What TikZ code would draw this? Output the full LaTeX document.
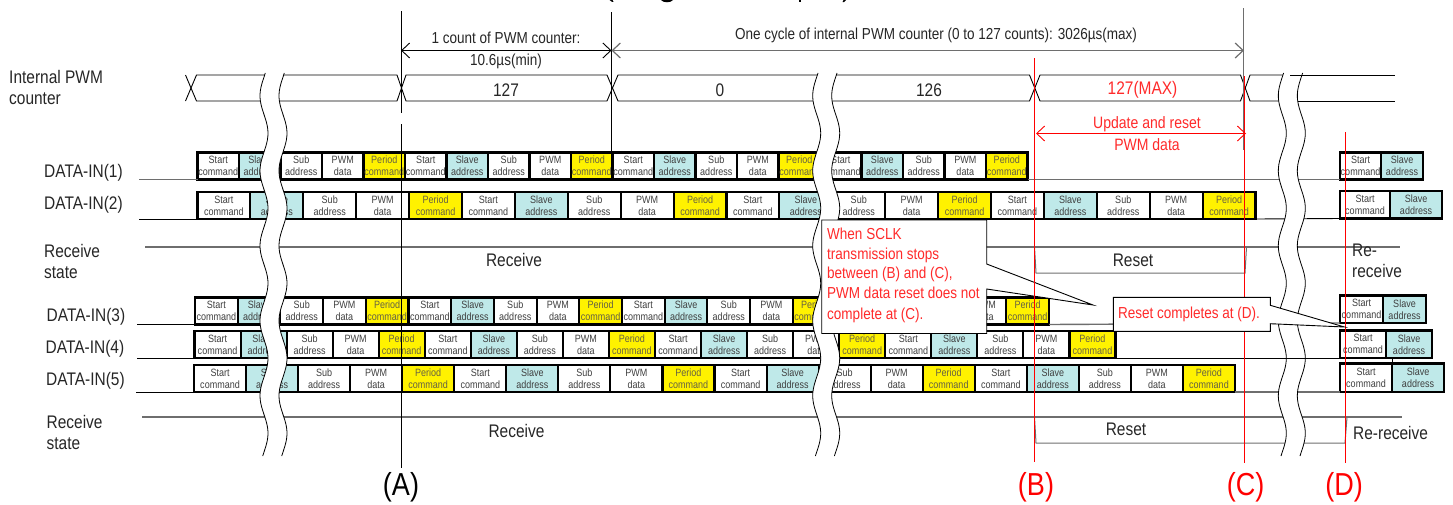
\documentclass[tikz,border=0pt]{standalone}
\usepackage{fontspec}
\setmainfont{Liberation Sans}[FakeStretch=0.85]
\usetikzlibrary{arrows.meta}
\definecolor{ink}{HTML}{262626}
\definecolor{celltxt}{HTML}{404040}
\definecolor{slavefill}{HTML}{BFE9E9}
\definecolor{redtxt}{HTML}{FF2A2A}
\definecolor{grayline}{HTML}{6E6E6E}
\newcommand\fsz[2]{\fontsize{#1}{#2}\selectfont}
\newcommand\ctzero{Start\\command}
\newcommand\ctone{Slave\\address}
\newcommand\cttwo{Sub\\address}
\newcommand\ctthree{PWM\\data}
\newcommand\ctfour{Period\\command}
\tikzset{
  cellbox/.style={draw=black,line width=2.1pt,anchor=north west,inner sep=0pt,outer sep=0pt,
    align=center,text=celltxt,font=\fsz{10.6}{12}},
  ctype0/.style={fill=white},
  ctype1/.style={fill=slavefill},
  ctype2/.style={fill=white},
  ctype3/.style={fill=white},
  ctype4/.style={fill=yellow,text=black!70!yellow},
  lbl/.style={anchor=west,inner sep=0pt,align=left,text=ink,font=\fsz{18.2}{21}},
  ctr/.style={inner sep=0pt,align=center,text=ink,font=\fsz{18.2}{21}},
  dim/.style={inner sep=0pt,align=center,text=ink,font=\fsz{15.9}{18}},
  reddim/.style={inner sep=0pt,align=center,text=redtxt,font=\fsz{16.5}{22}},
  bigmark/.style={inner sep=0pt,font=\fsz{31.8}{34}},
  timing/.style={draw=black,line width=0.9pt},
  thin/.style={draw=black,line width=0.9pt},
  grayl/.style={draw=grayline,line width=1.4pt},
  vline/.style={draw=black,line width=0.9pt},
  redline/.style={draw=red,line width=1.1pt},
  callout/.style={draw=black,fill=white,line width=0.9pt},
  calltext/.style={anchor=north west,inner sep=0pt,align=left,text=redtxt,font=\fsz{15.9}{19.8}},
  biarrow/.style={{Straight Barb[length=8pt,width=15pt]}-{Straight Barb[length=8pt,width=15pt]}},
}
\newcommand\cellrow[5]{%
  \pgfmathsetmacro\hh{#5-#4}%
  \foreach \k in {0,...,19}{%
    \pgfmathsetmacro\xx{#2+\k*#3}%
    \pgfmathtruncatemacro\ctp{mod(\k,5)}%
    \ifcase\ctp\def\cc{\ctzero}\or\def\cc{\ctone}\or\def\cc{\cttwo}\or\def\cc{\ctthree}\or\def\cc{\ctfour}\fi
    \node[cellbox,ctype\ctp,minimum width=#3pt,minimum height=\hh pt] (#1c\k) at (\xx,#4) {\cc};
  }%
}
\newcommand\tailgroup[6]{% id, x0, x1, x2, ytop, ybot
  \pgfmathsetmacro\hh{#6-#5}%
  \pgfmathsetmacro\wa{#3-#2}%
  \pgfmathsetmacro\wb{#4-#3}%
  \node[cellbox,ctype0,minimum width=\wa pt,minimum height=\hh pt] (#1a) at (#2,#5) {\ctzero};
  \node[cellbox,ctype1,minimum width=\wb pt,minimum height=\hh pt] (#1b) at (#3,#5) {\ctone};
}
\newcommand\band[1]{%
  \fill[white] plot[variable=\t,domain=73:456,samples=110] ({#1+4+4*sin(4.8*(\t-114.5))},\t)
    -- plot[variable=\t,domain=456:73,samples=110] ({#1+23+4*sin(4.8*(\t-114.5))},\t) -- cycle;
  \draw[thin,line width=0.8pt] plot[variable=\t,domain=73:456,samples=110] ({#1+4+4*sin(4.8*(\t-114.5))},\t);
  \draw[thin,line width=0.8pt] plot[variable=\t,domain=73:456,samples=110] ({#1+23+4*sin(4.8*(\t-114.5))},\t);
}
\begin{document}
\begin{tikzpicture}[x=1pt,y=-1pt]
\useasboundingbox (0,0) rectangle (1453,504);
% fragments of the clipped title
\fill[black] (609.5,0) -- (612.5,0) -- (613.5,1.8) -- (612,1.8) -- cycle;
\fill[black] (661,0) .. controls (663,3) and (671,3) .. (673,0) -- cycle;
\fill[black] (798.5,0) rectangle (801,2.4);
\fill[black] (843.5,0) -- (846,0) -- (844,2) -- (842.5,2) -- cycle;
% timing row of the internal counter
\draw[timing] (185.5,75) -- (196.5,101) -- (397,101) -- (406,75) -- (607,75) -- (618,101) -- (1029.5,101) -- (1040,75) -- (1240.5,75) -- (1250,101) -- (1296,101);
\draw[timing] (185.5,101) -- (196.5,75) -- (397,75) -- (406,101) -- (607,101) -- (618,75) -- (1029.5,75) -- (1040,101) -- (1240.5,101) -- (1250,75) -- (1283,75);
\draw[timing] (1297,101) -- (1395,101);
% data rows
\cellrow{r1}{197.5}{41.5}{152.5}{179.5}
\cellrow{r2}{197.5}{52.9}{192}{219}
\cellrow{r3}{195}{42.7}{297.5}{324.5}
\cellrow{r4}{194.5}{46.05}{331}{358}
\cellrow{r5}{194}{52.05}{365}{392}
\tailgroup{g1}{1340}{1381}{1423}{152.5}{179.5}
\tailgroup{g2}{1340}{1390}{1442}{191}{218.5}
\tailgroup{g3}{1340}{1383}{1426}{295.5}{323}
\tailgroup{g5}{1340}{1392}{1444}{363.5}{392}
\tailgroup{g4}{1340}{1386}{1432}{330.5}{358}
% row lines
\coordinate (l1) at (139,179.5);
\coordinate (l2) at (139,219);
\coordinate (l3) at (137,324.5);
\coordinate (l4) at (137,358);
\coordinate (l5) at (136,392);
\draw[grayl] (l1) -- (r1c0.south west);
\draw[grayl] (r1c19.south east) -- (g1a.south west);
\draw[thin] (l2) -- (r2c0.south west);
\draw[thin] (r2c19.south east) -- (g2a.south west);
\draw[thin] (l3) -- (r3c0.south west);
\draw[grayl] (r3c19.south east) -- (g3a.south west);
\draw[thin] (l4) -- (r4c0.south west);
\draw[thin] (l5) -- (r5c0.south west);
\draw[grayl] (r5c19.south east) -- (g5a.south west);
% receive state lines
\coordinate (s1a) at (145,247);
\coordinate (s1b) at (1400,247);
\coordinate (s2a) at (142,417);
\coordinate (s2b) at (1402,417);
\draw[grayl] (s1a) -- (s1b);
\draw[grayl] (s2a) -- (s2b);
\draw[grayl,line width=1pt] (1034.5,247) -- (1036,273) -- (1245,273) -- (1246.5,247);
\draw[grayl,line width=1pt] (1034.5,417) -- (1036,443) -- (1345,443) -- (1347,417);
% break bands
\band{260}
\band{812.7}
\band{1278.3}
\draw[timing] (1290,75) -- (1395,75);
\draw[thin] (r4c19.south east) -- (1392,358) -- (1392,363.5);
% vertical markers
\coordinate (At1) at (401,11);
\coordinate (At2) at (401,113);
\coordinate (Ab1) at (401,124);
\coordinate (Ab2) at (401,468);
\coordinate (Mt) at (611.5,12);
\coordinate (Mb) at (611.5,151);
\coordinate (Et) at (1243.7,8);
\coordinate (Eb) at (1243.7,150);
\draw[vline] (At1) -- (At2);
\draw[vline] (Ab1) -- (Ab2);
\draw[vline] (Mt) -- (Mb);
\draw[grayl] (Et) -- (Eb);
% dimension arrows
\coordinate (d1) at (401,50.5);
\coordinate (d2) at (611.5,50.5);
\coordinate (d3) at (1244,50.5);
\draw[vline,biarrow] (d1) -- (d2);
\draw[grayl,line width=1.2pt,biarrow] (d2) -- (d3);
\coordinate (d4) at (1036,133.5);
\coordinate (d5) at (1246,133.5);
\draw[draw=red,line width=0.9pt,biarrow] (d4) -- (d5);
% first callout
\path[callout] (821.7,220) -- (986.7,220) -- (986.7,264) -- (1093,305) -- (986.7,289) -- (986.7,333.5) -- (821.7,333.5) -- cycle;
\node[calltext] (c1) at (827,227.5) {When SCLK\\transmission stops\\between (B) and (C),\\PWM data reset does not\\[1.5pt]complete at (C).};
% red markers
\coordinate (Bt) at (1034.3,58);
\coordinate (Bb) at (1034.3,462);
\coordinate (Ct) at (1244.5,76);
\coordinate (Cb) at (1244.5,463);
\coordinate (Dt) at (1345.5,132);
\coordinate (Db) at (1345.5,463);
\draw[redline] (Bt) -- (Bb);
\draw[redline] (Ct) -- (Cb);
\draw[redline] (Dt) -- (Db);
% second callout
\path[callout] (1113.3,297.3) -- (1270.3,297.3) -- (1270.3,305.3) -- (1344.5,327) -- (1270.3,323.7) -- (1270.3,331.3) -- (1113.3,331.3) -- cycle;
\node[inner sep=0pt,text=redtxt,font=\fsz{15.9}{18}] (c2) at (1189,314.5) {Reset completes at (D).};
% labels
\node[lbl] (t1) at (9,87) {Internal PWM\\counter};
\node[lbl] (t2) at (44,173) {DATA-IN(1)};
\node[lbl] (t3) at (44,205) {DATA-IN(2)};
\node[lbl] (t4) at (44,261.5) {Receive\\state};
\node[lbl] (t5) at (46.5,317) {DATA-IN(3)};
\node[lbl] (t6) at (45.5,349) {DATA-IN(4)};
\node[lbl] (t7) at (46,381) {DATA-IN(5)};
\node[lbl] (t8) at (46.5,432) {Receive\\state};
\node[dim] (t9) at (506,38) {1 count of PWM counter:};
\node[dim] (t10) at (506,61) {10.6µs(min)};
\node[dim] (t11) at (936,35) {One cycle of internal PWM counter (0 to 127 counts): 3026µs(max)};
\node[ctr] (t12) at (506,90) {127};
\node[ctr] (t13) at (720,90) {0};
\node[ctr] (t14) at (929,90) {126};
\node[ctr,text=redtxt] (t15) at (1142.5,90) {127(MAX)};
\node[reddim] (t16) at (1147,134) {Update and reset\\PWM data};
\node[ctr] (t17) at (514,260) {Receive};
\node[ctr] (t18) at (516.5,431) {Receive};
\node[ctr] (t19) at (1133,260) {Reset};
\node[ctr] (t20) at (1126,429) {Reset};
\node[lbl] (t21) at (1352,261) {Re-\\receive};
\node[lbl] (t22) at (1353,433) {Re-receive};
\node[bigmark,text=black] (mA) at (401,487) {(A)};
\node[bigmark,text=red] (mB) at (1036,487) {(B)};
\node[bigmark,text=red] (mC) at (1245.7,487) {(C)};
\node[bigmark,text=red] (mD) at (1344,487) {(D)};
\end{tikzpicture}
\end{document}
